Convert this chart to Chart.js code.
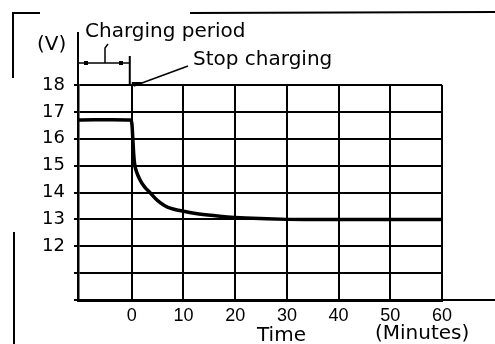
<!DOCTYPE html>
<html>
<head>
<meta charset="utf-8">
<script src="https://cdn.jsdelivr.net/npm/chart.js@4"></script>
<style>
  html, body { margin: 0; padding: 0; background: #fff; }
  #wrap { width: 495px; height: 344px; }
</style>
</head>
<body>
<div id="wrap"><canvas id="chart" width="495" height="344"></canvas></div>
<script>
// Battery voltage during and after charging
const timeMin = [-10.4, -0.3, 0, 0.2, 0.6, 1.5, 2.5, 3.5, 5, 7, 10, 13, 17, 22, 30, 40, 50, 60];
const voltage = [16.7, 16.7, 16.6, 16.0, 15.0, 14.5, 14.2, 14.0, 13.7, 13.45, 13.3, 13.2, 13.12, 13.05, 13.0, 13.0, 13.0, 13.0];

// Axis ticks
const xTicks = [0, 10, 20, 30, 40, 50, 60];
const yTicks = [10, 11, 12, 13, 14, 15, 16, 17, 18];
const yLabeled = [12, 13, 14, 15, 16, 17, 18];

const FONT = "'DejaVu Sans', Arial, sans-serif";
const XFONT = "'Liberation Sans', Arial, sans-serif";

// Build the points for the chart
const points = timeMin.map(function (t, i) {
  return { x: t, y: voltage[i] };
});

// Draws the annotations, axis names and frame marks
const notes = {
  id: "notes",
  afterDraw: function (chart) {
    const ctx = chart.ctx;
    const area = chart.chartArea;
    const xs = chart.scales.x;
    const x0 = xs.getPixelForValue(0);
    ctx.save();
    ctx.strokeStyle = "#000";
    ctx.fillStyle = "#000";
    ctx.lineWidth = 2;

    // x axis line runs on past 60
    ctx.beginPath();
    ctx.moveTo(area.right, area.bottom);
    ctx.lineTo(chart.width, area.bottom);
    ctx.stroke();

    // left axis and stop line go up past the top
    ctx.beginPath();
    ctx.moveTo(area.left, area.top);
    ctx.lineTo(area.left, 32);
    ctx.moveTo(x0 - 2, area.top);
    ctx.lineTo(x0 - 2, 56);
    ctx.stroke();

    // charging period bracket
    ctx.lineWidth = 1.5;
    ctx.beginPath();
    ctx.moveTo(area.left, 63);
    ctx.lineTo(x0 - 2, 63);
    ctx.moveTo(105, 63);
    ctx.lineTo(105, 48);
    ctx.lineTo(108, 44);
    ctx.stroke();
    ctx.fillRect(84, 61, 4, 4);
    ctx.fillRect(119, 61, 4, 4);

    // stop charging pointer
    ctx.lineWidth = 1.5;
    ctx.beginPath();
    ctx.moveTo(x0 + 2, 86);
    ctx.lineTo(188, 66);
    ctx.stroke();
    ctx.fillRect(x0, 82, 10, 4);

    // scan frame marks
    ctx.lineWidth = 2;
    ctx.beginPath();
    ctx.moveTo(13, 78);
    ctx.lineTo(13, 13);
    ctx.lineTo(40, 13);
    ctx.moveTo(190, 13);
    ctx.lineTo(chart.width, 12);
    ctx.moveTo(14, 232);
    ctx.lineTo(14, chart.height);
    ctx.stroke();

    // texts
    ctx.font = "20px " + FONT;
    ctx.textBaseline = "alphabetic";
    ctx.textAlign = "left";
    ctx.fillText("Charging period", 85, 37);
    ctx.fillText("Stop charging", 193, 65);
    ctx.fillText("(V)", 37, 50);
    ctx.fillText("Time", 257, 341);
    ctx.fillText("(Minutes)", 375, 339);
    ctx.restore();
  }
};

new Chart(document.getElementById("chart"), {
  type: "line",
  data: {
    datasets: [
      {
        label: "Voltage",
        data: points,
        borderColor: "#000",
        borderWidth: 3.5,
        pointRadius: 0,
        tension: 0.3,
        fill: false
      }
    ]
  },
  options: {
    responsive: false,
    animation: false,
    layout: { padding: { left: 0, right: 53, top: 85, bottom: 0 } },
    plugins: {
      legend: { display: false },
      tooltip: { enabled: false }
    },
    scales: {
      x: {
        type: "linear",
        min: -10.4,
        max: 60,
        afterBuildTicks: function (scale) {
          scale.ticks = xTicks.map(function (v) { return { value: v }; });
        },
        afterFit: function (scale) { scale.height = 44; },
        grid: { color: "#000", lineWidth: 2, drawTicks: false },
        border: { display: true, color: "#000", width: 3 },
        ticks: {
          color: "#000",
          font: { family: XFONT, size: 18 },
          padding: 5,
          maxRotation: 0
        }
      },
      y: {
        min: 10,
        max: 18,
        afterBuildTicks: function (scale) {
          scale.ticks = yTicks.map(function (v) { return { value: v }; });
        },
        afterFit: function (scale) { scale.width = 78; },
        grid: { color: "#000", lineWidth: 2, tickLength: 4 },
        border: { display: true, color: "#000", width: 2.5 },
        ticks: {
          color: "#000",
          font: { family: FONT, size: 18 },
          padding: 9,
          callback: function (v) {
            return yLabeled.indexOf(v) !== -1 ? String(v) : "";
          }
        }
      }
    }
  },
  plugins: [notes]
});
</script>
</body>
</html>
